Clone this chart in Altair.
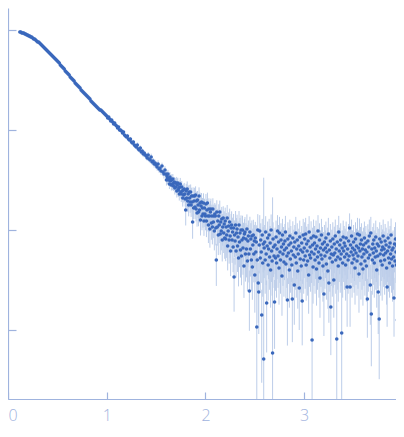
import altair as alt
import numpy as np
import pandas as pd

# q grid (two sampling segments)
q_start_a, q_step_a = 0.12, 0.01
q_start_b, q_step_b = 1.60, 0.005

# log10 intensity, segment A (q = 0.12 ... 1.59)
log_i_a = [
    -0.02, -0.02, -0.03, -0.03, -0.03, -0.04, -0.04, -0.05,
    -0.05, -0.06, -0.06, -0.07, -0.07, -0.08, -0.09, -0.09, -0.10, -0.11,
    -0.12, -0.12, -0.13, -0.14, -0.15, -0.16, -0.17, -0.18, -0.19, -0.20,
    -0.21, -0.22, -0.23, -0.24, -0.25, -0.26, -0.27, -0.28, -0.29, -0.30,
    -0.31, -0.32, -0.33, -0.35, -0.36, -0.37, -0.38, -0.39, -0.41, -0.42,
    -0.43, -0.44, -0.45, -0.47, -0.48, -0.49, -0.50, -0.51, -0.53, -0.54,
    -0.55, -0.56, -0.57, -0.58, -0.60, -0.61, -0.62, -0.63, -0.64, -0.65,
    -0.66, -0.67, -0.68, -0.69, -0.71, -0.72, -0.73, -0.74, -0.75, -0.76,
    -0.77, -0.78, -0.79, -0.80, -0.80, -0.81, -0.82, -0.83, -0.84, -0.85,
    -0.86, -0.88, -0.87, -0.89, -0.91, -0.90, -0.92, -0.94, -0.93, -0.95,
    -0.96, -0.98, -0.97, -1.00, -1.00, -1.01, -1.03, -1.02, -1.05, -1.06,
    -1.07, -1.06, -1.09, -1.10, -1.09, -1.12, -1.13, -1.12, -1.15, -1.16,
    -1.17, -1.15, -1.19, -1.20, -1.18, -1.22, -1.21, -1.24, -1.23, -1.25,
    -1.26, -1.28, -1.25, -1.29, -1.30, -1.27, -1.32, -1.31, -1.34, -1.33,
    -1.35, -1.37, -1.34, -1.39, -1.38, -1.41, -1.36, -1.42, -1.44, -1.40,
]

# relative error in percent, segment A
rel_err_a = [
    1, 1, 1, 1, 1, 1, 1, 1,
    1, 1, 1, 1, 1, 1, 1, 1, 1, 1,
    1, 1, 1, 1, 1, 1, 1, 1, 1, 1,
    1, 1, 1, 1, 1, 1, 1, 1, 1, 1,
    1, 1, 1, 1, 1, 2, 1, 1, 2, 1,
    2, 2, 2, 2, 2, 2, 2, 2, 2, 2,
    2, 2, 2, 2, 2, 2, 2, 2, 2, 2,
    2, 2, 2, 3, 2, 2, 2, 3, 2, 2,
    3, 2, 3, 3, 2, 3, 3, 3, 3, 3,
    3, 3, 3, 4, 3, 3, 4, 3, 4, 4,
    4, 3, 4, 4, 4, 4, 4, 5, 4, 4,
    4, 5, 5, 4, 5, 5, 5, 5, 5, 6,
    5, 6, 6, 5, 6, 6, 6, 7, 6, 6,
    7, 6, 7, 7, 7, 8, 7, 7, 8, 8,
    8, 8, 9, 8, 9, 9, 8, 9, 10, 9,
]

# log10 intensity, segment B (q = 1.600 ... 3.995)
log_i_b = [
    -1.44, -1.50, -1.46, -1.48, -1.44, -1.50, -1.49, -1.54, -1.47, -1.51, -1.49, -1.55, -1.50, -1.54, -1.49, -1.56, -1.53, -1.52, -1.58, -1.53,
    -1.57, -1.53, -1.61, -1.55, -1.53, -1.60, -1.58, -1.64, -1.57, -1.54, -1.62, -1.64, -1.57, -1.61, -1.68, -1.60, -1.65, -1.59, -1.64, -1.69,
    -1.80, -1.61, -1.68, -1.59, -1.71, -1.64, -1.75, -1.62, -1.68, -1.72, -1.62, -1.75, -1.66, -1.72, -1.92, -1.66, -1.78, -1.71, -1.66, -1.77,
    -1.65, -1.79, -1.71, -1.83, -1.70, -1.75, -1.82, -1.66, -1.80, -1.73, -1.90, -1.76, -1.72, -1.86, -1.78, -1.84, -1.73, -1.91, -1.78, -1.84,
    -1.86, -1.74, -1.91, -1.80, -1.73, -1.86, -1.95, -1.79, -1.86, -1.99, -1.82, -1.79, -1.93, -1.86, -1.97, -1.79, -1.92, -1.86, -2.01, -1.84,
    -1.86, -1.98, -2.30, -1.82, -1.97, -1.91, -2.05, -1.86, -1.95, -1.82, -2.04, -1.92, -2.01, -1.89, -2.10, -1.97, -1.88, -2.03, -1.94, -2.08,
    -1.91, -2.09, -1.97, -2.05, -1.88, -2.16, -2.01, -1.96, -2.10, -1.92, -2.06, -2.21, -1.98, -1.95, -2.10, -2.02, -2.17, -1.98, -2.47, -2.05,
    -2.11, -1.95, -2.21, -2.03, -1.99, -2.16, -2.07, -2.28, -1.95, -2.12, -2.03, -2.20, -2.00, -2.26, -2.10, -2.00, -2.18, -2.08, -2.36, -2.04,
    -2.02, -2.24, -2.09, -2.19, -1.99, -2.31, -2.11, -2.06, -2.24, -2.61, -2.02, -2.19, -2.09, -2.30, -2.06, -2.37, -2.15, -2.05, -2.24, -2.11,
    -2.45, -2.08, -2.22, -2.12, -2.97, -2.30, -2.00, -2.53, -2.62, -2.15, -2.01, -2.28, -2.10, -2.22, -2.85, -2.05, -2.33, -2.14, -3.29, -2.18,
    -2.12, -2.30, -2.02, -2.24, -2.73, -2.16, -2.08, -2.35, -2.19, -2.05, -2.27, -2.13, -2.40, -2.00, -2.21, -2.31, -3.23, -2.09, -2.17, -2.26,
    -2.72, -2.15, -2.28, -2.07, -2.33, -2.19, -2.01, -2.26, -2.12, -2.38, -2.03, -2.22, -2.30, -2.10, -2.17, -2.46, -2.05, -2.24, -2.14, -2.32,
    -2.20, -2.11, -2.02, -2.34, -2.18, -2.26, -2.70, -2.09, -2.23, -2.15, -2.40, -2.06, -2.29, -2.13, -2.21, -2.35, -2.69, -2.08, -2.25, -2.17,
    -2.55, -2.12, -2.27, -2.03, -2.33, -2.19, -2.10, -2.41, -2.24, -2.16, -2.58, -2.07, -2.29, -2.20, -2.36, -2.13, -2.71, -2.22, -2.05, -2.30,
    -2.18, -2.09, -2.26, -2.04, -2.35, -2.14, -2.21, -2.31, -2.11, -2.45, -2.02, -2.25, -2.17, -2.28, -2.08, -2.22, -3.10, -2.15, -2.37, -2.06,
    -2.24, -2.13, -2.30, -2.19, -2.07, -2.39, -2.16, -2.27, -2.01, -2.22, -2.33, -2.10, -2.48, -2.18, -2.25, -2.05, -2.29, -2.14, -2.36, -2.20,
    -2.64, -2.12, -2.26, -2.18, -2.08, -2.34, -2.22, -2.15, -2.41, -2.04, -2.53, -2.20, -2.28, -2.11, -2.77, -2.24, -2.17, -2.32, -2.09, -2.25,
    -2.50, -2.14, -2.23, -2.06, -2.30, -2.19, -3.09, -2.12, -2.27, -2.36, -2.02, -2.21, -2.15, -2.29, -2.10, -2.24, -3.03, -2.18, -2.33, -2.07,
    -2.21, -2.13, -2.27, -2.16, -2.35, -2.08, -2.24, -2.57, -2.19, -2.30, -2.11, -2.26, -1.98, -2.57, -2.15, -2.22, -2.06, -2.33, -2.18, -2.25,
    -2.12, -2.29, -2.20, -2.38, -2.09, -2.23, -2.16, -2.31, -2.04, -2.26, -2.18, -2.44, -2.05, -2.21, -2.14, -2.34, -2.10, -2.27, -2.19, -2.39,
    -2.15, -2.24, -2.08, -2.31, -2.20, -2.13, -2.36, -2.22, -2.69, -2.11, -2.28, -2.17, -2.06, -2.25, -2.55, -2.03, -2.84, -2.19, -2.30, -2.14,
    -2.23, -2.10, -2.33, -2.18, -2.27, -2.07, -2.21, -2.40, -2.14, -2.26, -2.62, -2.16, -2.89, -2.09, -2.24, -2.31, -2.12, -2.20, -2.35, -2.17,
    -2.06, -2.25, -2.19, -2.30, -2.11, -2.23, -2.15, -2.38, -2.57, -2.21, -2.08, -2.28, -2.17, -2.33, -2.13, -2.24, -2.05, -2.29, -2.20, -2.36,
    -2.18, -2.27, -2.68, -2.14, -2.31, -2.09, -2.22, -2.35, -2.16, -2.90, -2.25, -2.06, -2.20, -2.29, -2.12, -2.24, -2.50, -2.19, -2.33, -2.15,
]

# relative error in percent, segment B
rel_err_b = [
    10, 12, 11, 13, 10, 12, 14, 11, 12, 13, 11, 12, 14, 13, 12, 11, 13, 12, 14, 12,
    13, 15, 14, 16, 13, 15, 17, 14, 16, 15, 14, 17, 15, 16, 18, 14, 16, 15, 17, 16,
    30, 18, 20, 19, 22, 21, 23, 18, 20, 22, 19, 24, 21, 20, 32, 22, 23, 19, 21, 24,
    22, 25, 24, 27, 23, 26, 28, 22, 25, 27, 30, 24, 23, 28, 26, 27, 25, 29, 24, 26,
    28, 26, 31, 29, 27, 30, 34, 28, 31, 35, 29, 27, 32, 30, 33, 28, 31, 30, 36, 29,
    30, 33, 45, 31, 35, 32, 37, 31, 34, 30, 38, 33, 36, 32, 39, 35, 31, 37, 34, 38,
    36, 40, 38, 41, 35, 43, 39, 37, 42, 36, 40, 44, 38, 37, 41, 39, 44, 38, 55, 40,
    42, 38, 46, 41, 39, 45, 43, 48, 38, 44, 41, 47, 40, 49, 43, 39, 46, 42, 52, 41,
    41, 47, 44, 48, 40, 50, 45, 43, 48, 60, 42, 47, 44, 51, 43, 53, 46, 42, 48, 45,
    58, 45, 50, 47, 400, 52, 44, 60, 62, 48, 44, 53, 47, 51, 79, 45, 54, 48, 6400, 50,
    48, 54, 44, 51, 68, 49, 46, 56, 50, 45, 53, 48, 58, 43, 51, 55, 3500, 47, 50, 52,
    66, 49, 53, 46, 55, 50, 44, 52, 48, 57, 45, 51, 54, 47, 49, 60, 45, 52, 48, 55,
    50, 48, 45, 55, 50, 52, 65, 47, 51, 49, 58, 46, 54, 48, 51, 56, 63, 47, 52, 49,
    60, 48, 53, 45, 55, 50, 47, 58, 52, 49, 62, 46, 54, 51, 56, 48, 64, 52, 45, 54,
    50, 47, 53, 45, 56, 49, 51, 55, 48, 59, 44, 52, 49, 54, 47, 51, 400, 49, 57, 46,
    52, 48, 54, 50, 46, 57, 49, 53, 44, 51, 55, 47, 60, 50, 52, 45, 54, 48, 56, 51,
    62, 48, 53, 50, 46, 56, 51, 49, 58, 45, 60, 51, 54, 48, 67, 52, 49, 55, 47, 53,
    58, 49, 52, 46, 54, 50, 450, 48, 53, 56, 45, 51, 49, 54, 47, 52, 700, 50, 55, 46,
    51, 48, 53, 49, 56, 46, 52, 60, 50, 54, 48, 53, 40, 60, 49, 51, 46, 55, 50, 52,
    48, 54, 51, 57, 47, 52, 49, 55, 45, 53, 50, 59, 46, 51, 48, 56, 47, 53, 50, 57,
    49, 52, 46, 55, 51, 48, 56, 52, 59, 47, 54, 50, 46, 52, 60, 45, 70, 50, 55, 48,
    52, 47, 55, 50, 53, 46, 51, 58, 48, 53, 62, 49, 75, 47, 52, 55, 48, 51, 56, 50,
    46, 52, 50, 55, 48, 52, 49, 57, 60, 51, 47, 54, 50, 55, 48, 52, 46, 54, 51, 56,
    50, 53, 59, 48, 55, 47, 51, 57, 49, 78, 52, 46, 50, 54, 48, 52, 58, 50, 55, 49,
]

x_tick_values = [0, 1, 2, 3]
y_tick_values = [1, 0.1, 0.01, 0.001]

# ---- build table ----
na = min(len(log_i_a), len(rel_err_a))
nb = min(len(log_i_b), len(rel_err_b))
q = np.concatenate([q_start_a + q_step_a * np.arange(na),
                    q_start_b + q_step_b * np.arange(nb)])
L = np.array(log_i_a[:na] + log_i_b[:nb], dtype=float)
rel = np.array(rel_err_a[:na] + rel_err_b[:nb], dtype=float) / 100.0
I = 10.0 ** L
err = I * rel
df = pd.DataFrame({
    "q": np.round(q, 4),
    "I": I,
    "lo": np.maximum(I - err, 1e-6),
    "hi": I + err,
})

W, H = 388, 391
axis_color = "#9fb3de"
point_color = "#3a68bc"
bar_color = "#bccde9"

xscale = alt.Scale(domain=[0, 3.93], nice=False, zero=False)
yscale = alt.Scale(type="log", domain=[10 ** -3.69, 10 ** 0.22], nice=False)

# axes carrying only the inward-pointing ticks (drawn on the opposite side, shifted across)
x_tick_axis = alt.Axis(orient="top", offset=-H, values=x_tick_values, labels=False,
                       domain=False, ticks=True, tickSize=7, tickColor=axis_color,
                       tickWidth=1.2, grid=False, title=None)
y_tick_axis = alt.Axis(orient="right", offset=-W, values=y_tick_values, labels=False,
                       domain=False, ticks=True, tickSize=8, tickColor=axis_color,
                       tickWidth=1.2, grid=False, title=None)

# axes carrying the domain lines and labels
x_main_axis = alt.Axis(orient="bottom", values=x_tick_values, title=None, grid=False,
                       ticks=False, tickSize=0, domainColor=axis_color, domainWidth=1.2,
                       labelColor=axis_color, labelFont="Open Sans", labelFontWeight=300,
                       labelFontSize=16, labelPadding=8, labelFlush=True)
y_main_axis = alt.Axis(orient="left", values=y_tick_values, title=None, grid=False,
                       ticks=False, labels=False, domainColor=axis_color, domainWidth=1.2)

bars = alt.Chart(df).mark_rule(color=bar_color, strokeWidth=1, clip=True).encode(
    x=alt.X("q:Q", scale=xscale, axis=x_tick_axis),
    y=alt.Y("lo:Q", scale=yscale, axis=y_tick_axis),
    y2="hi:Q",
)

points = alt.Chart(df).mark_circle(size=13, color=point_color, opacity=1, clip=True).encode(
    x=alt.X("q:Q", scale=xscale, axis=x_main_axis),
    y=alt.Y("I:Q", scale=yscale, axis=y_main_axis),
)

chart = alt.layer(bars, points).resolve_axis(x="independent", y="independent").properties(
    width=W, height=H,
    padding={"left": 0, "top": 0, "right": 0, "bottom": 26},
    autosize=alt.AutoSizeParams(type="none"),
    background="white",
).configure_view(stroke=None)

chart.save("out.html", embed_options={"renderer": "svg", "actions": False})
